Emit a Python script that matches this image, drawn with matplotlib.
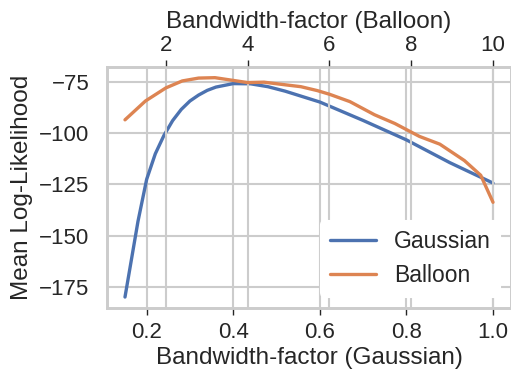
import numpy as np
import matplotlib
matplotlib.use("Agg")
import matplotlib.pyplot as plt
import seaborn as sns

# bandwidth factors and mean log-likelihoods
gauss_bw = [0.15, 0.18, 0.20, 0.22, 0.24, 0.26, 0.28, 0.30, 0.32, 0.34, 0.36,
            0.40, 0.44, 0.48, 0.52, 0.60, 0.70, 0.80, 0.90, 1.00]
gauss_ll = [-180.0, -143.0, -122.5, -110.0, -101.0, -93.8, -88.3, -84.2, -81.3, -79.0, -77.4,
            -75.7, -75.8, -77.2, -79.4, -84.7, -93.7, -103.2, -114.3, -124.3]

balloon_bw = [1.0, 1.5, 2.0, 2.4, 2.8, 3.2, 3.6, 4.0, 4.4, 4.8, 5.3,
              5.7, 6.0, 6.5, 7.1, 7.6, 8.2, 8.7, 9.3, 9.7, 10.0]
balloon_ll = [-93.4, -84.2, -77.8, -74.4, -73.0, -72.8, -74.0, -75.2, -75.0, -76.0, -77.2,
              -79.1, -80.9, -84.5, -90.9, -95.2, -101.5, -105.3, -113.3, -120.5, -133.7]

sns.set_theme(context="talk", style="whitegrid")
plt.rcParams["font.family"] = ["Liberation Sans", "DejaVu Sans"]
plt.rcParams["axes.labelsize"] = 17.5
plt.rcParams["xtick.labelsize"] = 16
plt.rcParams["ytick.labelsize"] = 16
plt.rcParams["legend.fontsize"] = 16.5

fig, ax = plt.subplots(figsize=(5.11, 3.71), dpi=100)
fig.subplots_adjust(left=0.2086, right=1.0008, bottom=0.1698, top=0.8202)

ax2 = ax.twiny()
l1, = ax.plot(gauss_bw, gauss_ll, color="#4C72B0", lw=2.4, label="Gaussian")
l2, = ax2.plot(balloon_bw, balloon_ll, color="#DD8452", lw=2.4, label="Balloon")

ax.set_xlabel("Bandwidth-factor (Gaussian)", labelpad=3)
ax.set_ylabel("Mean Log-Likelihood")
ax2.set_xlabel("Bandwidth-factor (Balloon)", labelpad=5)
ax.set_yticks([-75, -100, -125, -150, -175])
ax2.set_xticks([2, 4, 6, 8, 10])

ax.tick_params(axis="x", bottom=True, length=5, width=1, color="0.15", pad=5)
ax.tick_params(axis="y", left=False)
ax2.tick_params(axis="x", top=True, length=5, width=1, color="0.15", pad=3)

leg = ax2.legend(handles=[l1, l2], loc="lower right", frameon=True,
                 facecolor="white", edgecolor="white", framealpha=1)

fig.savefig("out.png", dpi=100)
